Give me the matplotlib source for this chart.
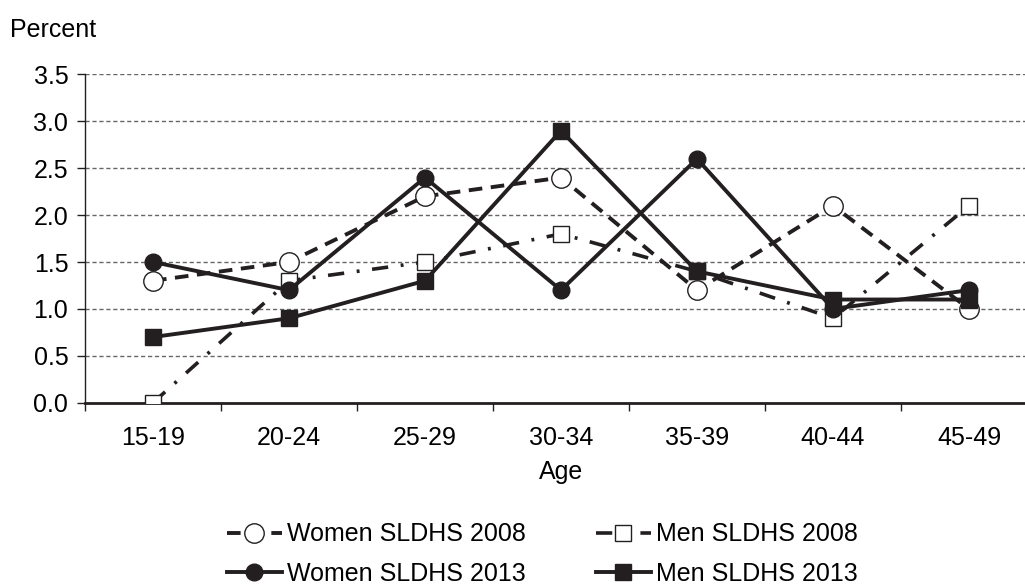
import matplotlib
matplotlib.use("Agg")
import matplotlib.pyplot as plt

plt.rcParams['font.family'] = ['Liberation Sans', 'DejaVu Sans']

ages = ["15-19", "20-24", "25-29", "30-34", "35-39", "40-44", "45-49"]
women_2008 = [1.3, 1.5, 2.2, 2.4, 1.2, 2.1, 1.0]
men_2008 = [0.0, 1.3, 1.5, 1.8, 1.4, 0.9, 2.1]
women_2013 = [1.5, 1.2, 2.4, 1.2, 2.6, 1.0, 1.2]
men_2013 = [0.7, 0.9, 1.3, 2.9, 1.4, 1.1, 1.1]
yticks = [0.0, 0.5, 1.0, 1.5, 2.0, 2.5, 3.0, 3.5]

FS = 18
C = '#231f20'
fig = plt.figure(figsize=(10.25, 5.85), dpi=100)
W, H = 1025, 585
left, right, top, bottom = 85, 1037, 74.4, 402.7
ax = fig.add_axes([left / W, 1 - bottom / H, (right - left) / W, (bottom - top) / H])

x = list(range(len(ages)))
l1, = ax.plot(x, women_2008, color=C, lw=2.8, linestyle=(0, (3.5, 2.2)),
              marker='o', ms=14, mfc='white', mec=C, mew=1.0, label='Women SLDHS 2008', zorder=3)
l2, = ax.plot(x, men_2008, color=C, lw=2.6, linestyle=(0, (4.5, 3.5, 0.8, 3.5)),
              marker='s', ms=11.5, mfc='white', mec=C, mew=1.0, label='Men SLDHS 2008', zorder=3)
l3, = ax.plot(x, women_2013, color=C, lw=2.8, linestyle='-',
              marker='o', ms=12, mfc=C, mec=C, label='Women SLDHS 2013', zorder=4)
l4, = ax.plot(x, men_2013, color=C, lw=2.8, linestyle='-',
              marker='s', ms=11.5, mfc=C, mec=C, label='Men SLDHS 2013', zorder=4)

ax.set_xlim(-0.5, len(ages) - 0.5)
ax.set_ylim(0, 3.5)
ax.set_yticks(yticks)
ax.set_yticklabels([f"{v:.1f}" for v in yticks], fontsize=FS)
ax.set_xticks(x)
ax.set_xticklabels(ages, fontsize=FS)
ax.set_xticks([i - 0.5 for i in range(len(ages) + 1)], minor=True)
ax.tick_params(axis='x', which='major', length=0, pad=17)
ax.tick_params(axis='x', which='minor', length=6, direction='out', width=1, color=C)
ax.tick_params(axis='y', length=6, direction='out', width=1, color=C, pad=6)
for v in yticks[1:]:
    ax.axhline(v, color='#666666', lw=1.0, linestyle=(0, (3, 2)), zorder=1)
ax.spines['top'].set_visible(False)
ax.spines['right'].set_visible(False)
ax.spines['left'].set_color(C)
ax.spines['left'].set_linewidth(1.0)
ax.spines['bottom'].set_color(C)
ax.spines['bottom'].set_linewidth(2.0)
ax.set_xlabel('Age', fontsize=FS, labelpad=7)
fig.text(10 / W, 1 - 30 / H, 'Percent', fontsize=FS, va='center', ha='left')

leg = fig.legend([l1, l3, l2, l4],
                 ['Women SLDHS 2008', 'Women SLDHS 2013', 'Men SLDHS 2008', 'Men SLDHS 2013'],
                 loc='center', bbox_to_anchor=(542 / W, 1 - 554 / H),
                 ncol=2, frameon=False, fontsize=FS, handlelength=2.2,
                 columnspacing=2.8, labelspacing=0.62, handletextpad=0.2)
fig.savefig('out.png', dpi=100)
